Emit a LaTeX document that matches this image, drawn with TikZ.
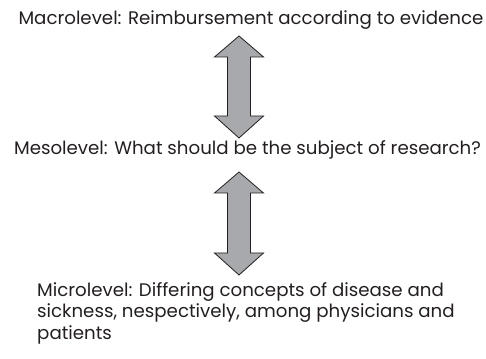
\documentclass[tikz,border=0pt]{standalone}
\usepackage{fontspec}
\setmainfont{Poppins}
\usepackage{tikz}
\usetikzlibrary{calc,positioning}
\usepackage{xcolor}
\definecolor{ArrowGray}{HTML}{A7A9AC}
\definecolor{InkBlack}{HTML}{231F20}

\newcommand{\levelarrow}[2]{% top tip, bottom tip
  \draw[bigarrow] (#1) -- ++(24.5,-21) -- ++(-13,0) -- ($(#2)+(11.5,22)$) -- ++(13,0)
    -- (#2) -- ++(-24.5,22) -- ++(13,0) -- ($(#1)+(-11.5,-21)$) -- ++(-13,0) -- cycle;}

\begin{document}
\begin{tikzpicture}[x=1pt,y=1pt,
  lvl/.style={inner sep=0pt,text=InkBlack,font=\fontsize{18.2}{21.5}\selectfont},
  bigarrow/.style={draw=InkBlack,fill=ArrowGray,line width=0.8pt,line join=miter}]
\useasboundingbox (0,0) rectangle (486,358);
\node[lvl,anchor=base] (macro) at (251,333) {Macrolevel: Reimbursement according to evidence};
\node[lvl,anchor=base] (meso) at (247.5,203) {Mesolevel: What should be the subject of research?};
\node[lvl,anchor=north west,align=left] (micro) at (37,76)
  {Microlevel: Differing concepts of disease and\\sickness, nespectively, among physicians and\\patients};
% arrows between the levels
\coordinate (t1) at (239,322);
\coordinate (b1) at (239,220);
\coordinate (t2) at (239,186);
\coordinate (b2) at (239,83);
\levelarrow{t1}{b1}
\levelarrow{t2}{b2}
\end{tikzpicture}
\end{document}
